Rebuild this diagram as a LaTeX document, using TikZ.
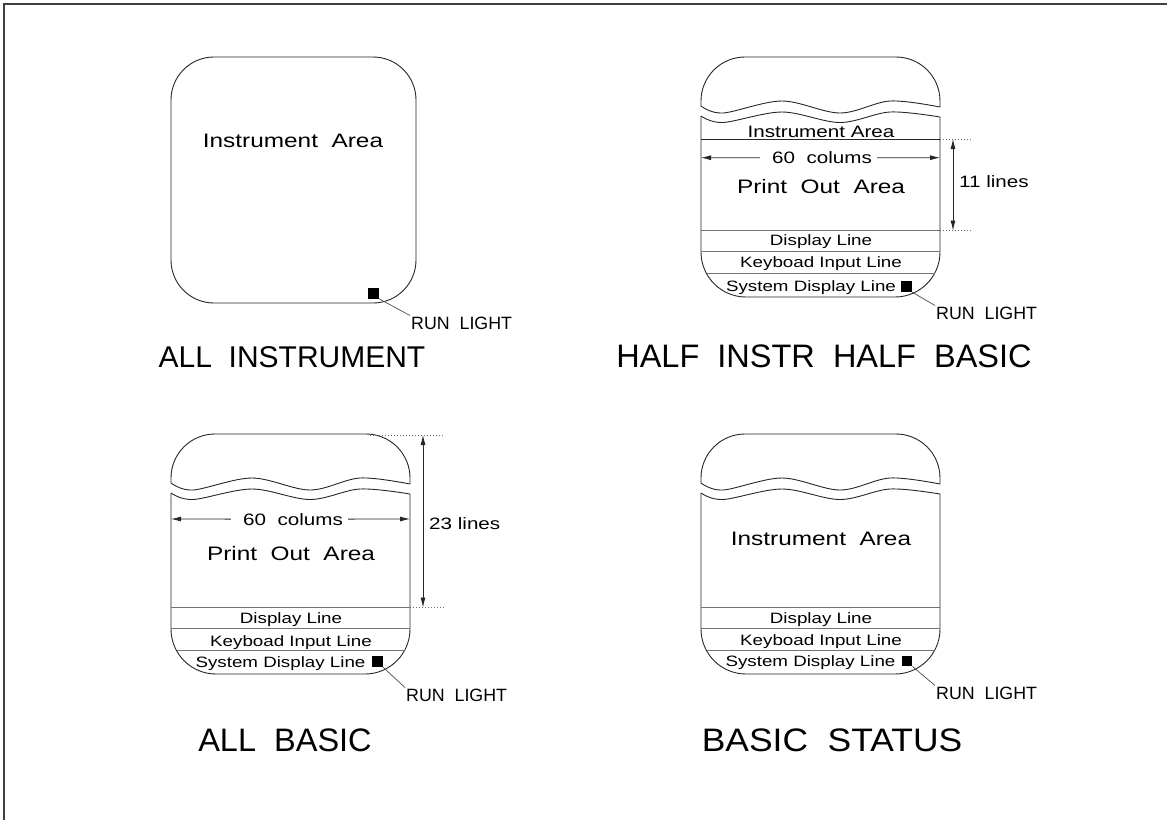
\documentclass[tikz,border=0pt]{standalone}
\usepackage{fontspec}
\setmainfont{Liberation Sans}
\newfontfamily\widefont[FakeStretch=1.25]{Liberation Sans}
\newfontfamily\titlewide[FakeStretch=1.09]{Liberation Sans}
\usetikzlibrary{arrows.meta}
\newcommand\panelshape{%
  \draw[outl, rounded corners=44pt] (701,483) -- (701,434) -- (940,434) -- (940,484);
  \draw[outl] plot[smooth, tension=0.55] coordinates {(701,483) (723,490) (782,478) (840,490) (890,478) (940,484)};
  \draw[outl] plot[smooth, tension=0.55] coordinates {(701,493) (723,499.5) (782,489) (840,499.5) (890,489) (940,494)};
  \draw[outl, rounded corners=45pt] (701,493) -- (701,674) -- (940,674) -- (940,494);
  \draw[sepline] (701,607.5) -- (940,607.5);
  \draw[sepline] (701,628.5) -- (940,628.5);
  \draw[sepline] (706.5,650.5) -- (934.5,650.5);
}
\begin{document}
\begin{tikzpicture}[x=1pt,y=-1pt,
  outl/.style={draw=black!85, line width=0.9pt},
  sepline/.style={draw=black!55, line width=0.9pt},
  dotline/.style={draw=black!60, line width=0.8pt, dash pattern=on 1.2pt off 1.8pt},
  dimarrow/.style={draw=black!85, line width=0.8pt, -{Latex[length=10pt,width=5pt]}},
  dimboth/.style={draw=black!85, line width=0.8pt, {Latex[length=10pt,width=5pt]}-{Latex[length=10pt,width=5pt]}},
  lead/.style={draw=black!70, line width=0.7pt},
  lamp/.style={fill=black, draw=none, minimum size=10.5pt, inner sep=0pt},
  wtxt/.style={font=\widefont, anchor=base, inner sep=0pt},
  runl/.style={font=\fontsize{17.8}{18}\selectfont, anchor=west, inner sep=1pt},
  title/.style={font=\fontsize{32.5}{32.5}\selectfont, anchor=base, inner sep=0pt}
]
\useasboundingbox (0,0) rectangle (1167,820);
% frame
\draw[draw=black!75, line width=1.5pt] (4,820) -- (4,4) -- (1167,4);

% ---------- panel 1 : ALL INSTRUMENT ----------
\draw[outl, rounded corners=43pt] (171,57) rectangle (416,303);
\node[wtxt, font=\widefont\fontsize{19.5}{19.5}\selectfont] (ia1) at (293,147) {Instrument\ \ Area};
\node[lamp] (sq1) at (373.5,293.3) {};
\node[runl] (rl1) at (410,323) {RUN\ \ LIGHT};
\draw[lead] (sq1.south east) -- (rl1.north west);
\node[title, font=\fontsize{30}{30}\selectfont] (t1) at (292,367) {ALL\ \ INSTRUMENT};

% ---------- panel 2 : HALF INSTR HALF BASIC ----------
\begin{scope}[shift={(0,-377)}]
\panelshape
\end{scope}
\draw[outl] (701,139) -- (940,139);
\draw[dotline] (940,139) -- (973,139);
\draw[dotline] (940,230.5) -- (973,230.5);
\coordinate (v2t) at (953,139);
\coordinate (v2b) at (953,230.5);
\draw[dimboth] (v2t) -- (v2b);
\node[wtxt, font=\widefont\fontsize{16.5}{16.5}\selectfont] (ia2) at (821,137) {Instrument Area};
\node[wtxt, font=\widefont\fontsize{16.5}{16.5}\selectfont] (c2) at (822,163.6) {60\ \ colums};
\coordinate (c2l) at (701,157.7);
\coordinate (c2r) at (940,157.7);
\draw[dimarrow] ([xshift=-12pt,yshift=5.9pt]c2.base west) -- (c2l);
\draw[dimarrow] ([xshift=5pt,yshift=5.9pt]c2.base east) -- (c2r);
\node[wtxt, font=\widefont\fontsize{19.5}{19.5}\selectfont] (po2) at (821,193.7) {Print\ \ Out\ \ Area};
\node[wtxt, anchor=base west, font=\widefont\fontsize{16.5}{16.5}\selectfont] (l2) at (959,187.6) {11 lines};
\node[wtxt, font=\widefont\fontsize{15}{15}\selectfont] (d2) at (821,245.4) {Display Line};
\node[wtxt, font=\widefont\fontsize{15}{15}\selectfont] (k2) at (821,267.4) {Keyboad Input Line};
\node[wtxt, font=\widefont\fontsize{15}{15}\selectfont] (s2) at (811,291) {System Display Line};
\node[lamp] (sq2) at (906.7,286.7) {};
\node[runl] (rl2) at (935,313) {RUN\ \ LIGHT};
\draw[lead] (sq2.south east) -- (rl2.north west);
\node[title] (t2) at (824,367) {HALF\ \ INSTR\ \ HALF\ \ BASIC};

% ---------- panel 3 : ALL BASIC ----------
\begin{scope}[shift={(-530,0)}]
\panelshape
\end{scope}
\draw[dotline] (370,435) -- (445,435);
\draw[dotline] (410,607.5) -- (445,607.5);
\coordinate (v3t) at (423,435);
\coordinate (v3b) at (423,607.5);
\draw[dimboth] (v3t) -- (v3b);
\node[wtxt, anchor=base west, font=\widefont\fontsize{16.5}{16.5}\selectfont] (l3) at (429,529.2) {23 lines};
\node[wtxt, font=\widefont\fontsize{16.5}{16.5}\selectfont] (c3) at (293,525) {60\ \ colums};
\coordinate (c3l) at (171,519);
\coordinate (c3r) at (410,519);
\draw[dimarrow] ([xshift=-12pt,yshift=5.9pt]c3.base west) -- (c3l);
\draw[dimarrow] ([xshift=5pt,yshift=5.9pt]c3.base east) -- (c3r);
\node[wtxt, font=\widefont\fontsize{19.5}{19.5}\selectfont] (po3) at (291,560.3) {Print\ \ Out\ \ Area};
\node[wtxt, font=\widefont\fontsize{15}{15}\selectfont] (d3) at (291,623.6) {Display Line};
\node[wtxt, font=\widefont\fontsize{15}{15}\selectfont] (k3) at (291,646) {Keyboad Input Line};
\node[wtxt, font=\widefont\fontsize{15}{15}\selectfont] (s3) at (280.5,667) {System Display Line};
\node[lamp] (sq3) at (377.5,661.7) {};
\node[runl] (rl3) at (405,695) {RUN\ \ LIGHT};
\draw[lead] (sq3.south east) -- (rl3.north west);
\node[title] (t3) at (285,751) {ALL\ \ BASIC};

% ---------- panel 4 : BASIC STATUS ----------
\panelshape
\node[wtxt, font=\widefont\fontsize{19.5}{19.5}\selectfont] (ia4) at (821,545) {Instrument\ \ Area};
\node[wtxt, font=\widefont\fontsize{15}{15}\selectfont] (d4) at (821,623.4) {Display Line};
\node[wtxt, font=\widefont\fontsize{15}{15}\selectfont] (k4) at (821,645.4) {Keyboad Input Line};
\node[wtxt, font=\widefont\fontsize{15}{15}\selectfont] (s4) at (810.5,666.4) {System Display Line};
\node[lamp] (sq4) at (907,661) {};
\node[runl] (rl4) at (935,693) {RUN\ \ LIGHT};
\draw[lead] (sq4.south east) -- (rl4.north west);
\node[title, font=\titlewide\fontsize{32.5}{32.5}\selectfont] (t4) at (832,751) {BASIC\ \ STATUS};
\end{tikzpicture}
\end{document}
